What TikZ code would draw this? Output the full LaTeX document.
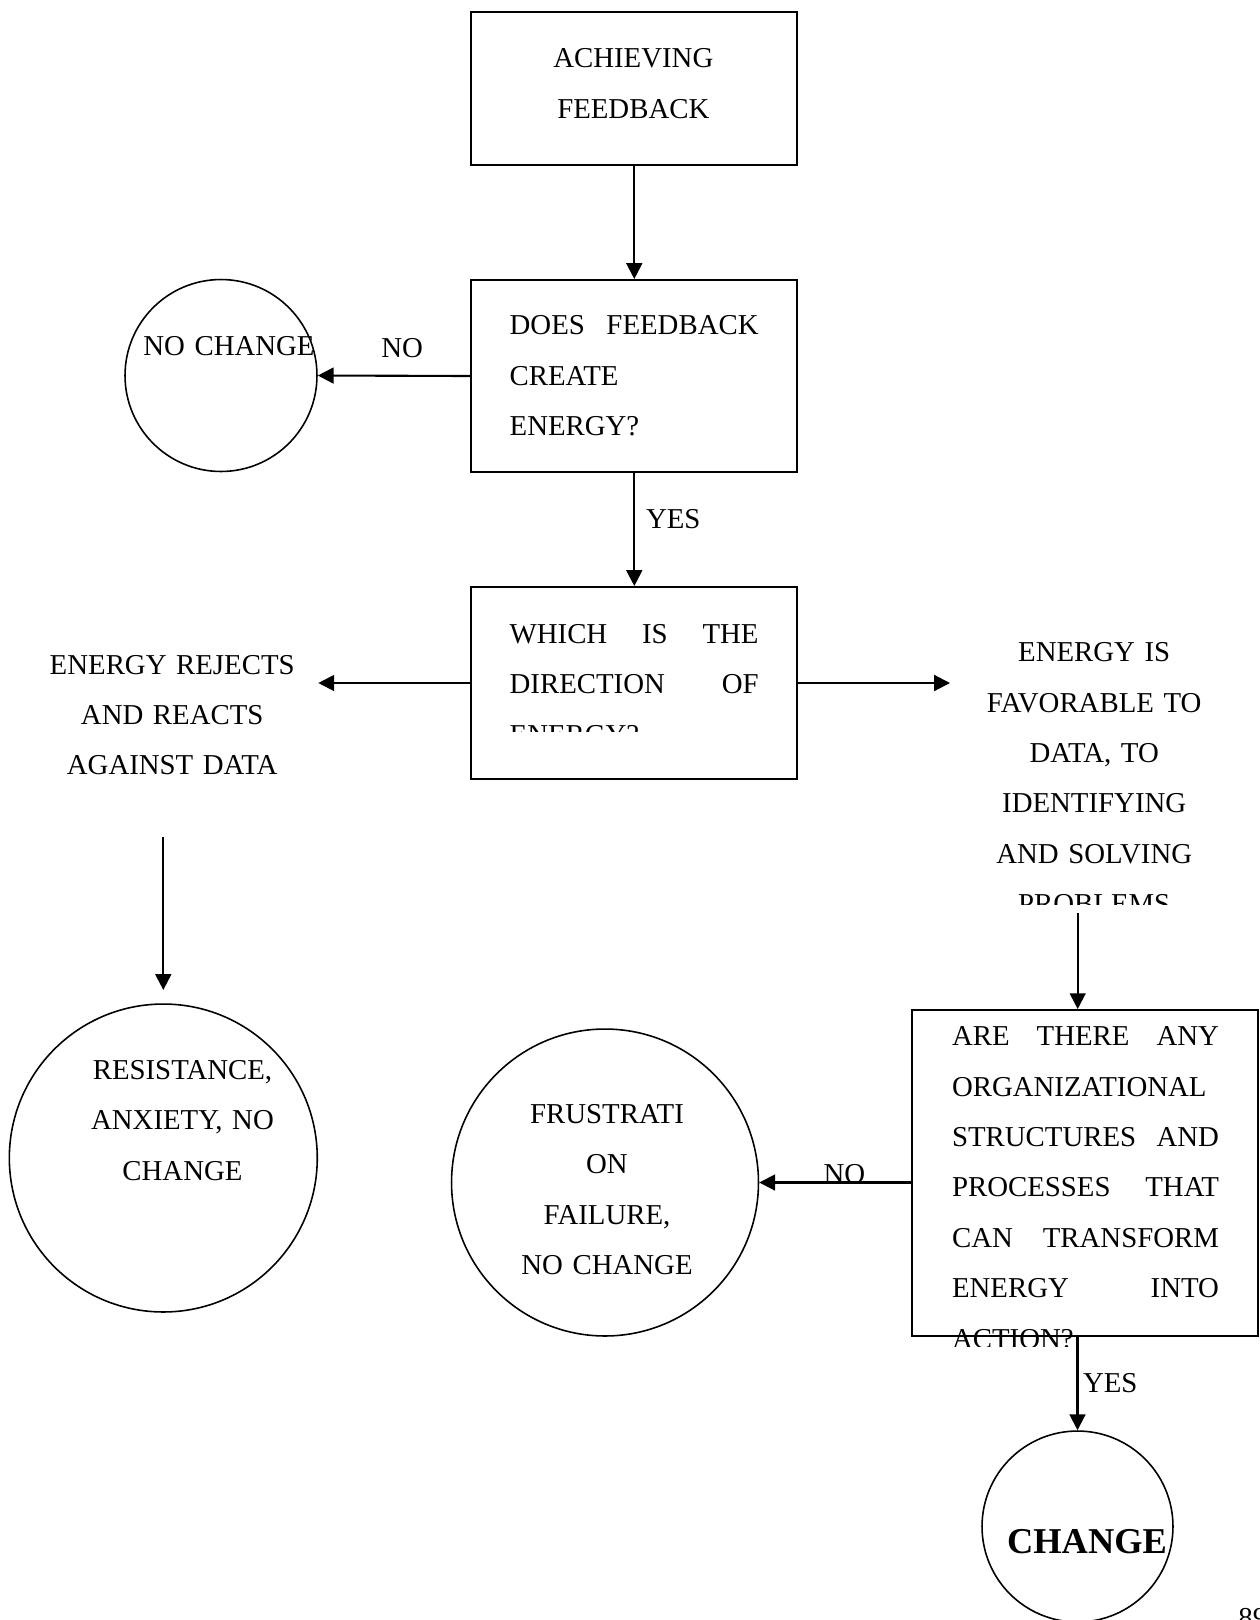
\documentclass[tikz,border=0pt]{standalone}
\usepackage{fontspec}
\setmainfont{Liberation Serif}
\usetikzlibrary{arrows.meta}

\newcommand{\bodysize}{\fontsize{16.4pt}{28.7pt}\selectfont}
\newcommand{\fullline}[2]{\makebox[#1][s]{\spaceskip=.25em plus 1fil\relax #2}}

\tikzset{
  flowbox/.style={rectangle, draw, line width=1.1pt, inner sep=0pt},
  endcircle/.style={circle, draw, line width=0.9pt, inner sep=0pt},
  flowtext/.style={inner sep=0pt, font=\bodysize, align=center, text width=7cm, anchor=base},
  boxtext/.style={inner sep=0pt, font=\bodysize, align=left, anchor=base west},
  flowarrow/.style={-{Triangle[length=9pt, width=9pt]}, line width=1.2pt},
}

\begin{document}
\begin{tikzpicture}[x=0.02cm, y=-0.02cm]
  \clip (0,0) rectangle (1259,1620);

  % boxes
  \node[flowbox, minimum width=6.52cm, minimum height=3.06cm] (achieve) at (634.3,88.3) {};
  \node[flowbox, minimum width=6.52cm, minimum height=3.84cm] (energyq) at (634.3,376) {};
  \node[flowbox, minimum width=6.52cm, minimum height=3.84cm] (direction) at (634.3,683) {};
  \node[flowbox, minimum width=6.92cm, minimum height=6.52cm] (structq) at (1085,1173) {};

  % circles
  \node[endcircle, minimum size=3.84cm] (nochange) at (221,375.5) {};
  \node[endcircle, minimum size=6.16cm] (resist) at (163.3,1158) {};
  \node[endcircle, minimum size=6.14cm] (frustr) at (605,1182.5) {};
  \node[endcircle, minimum size=3.82cm] (change) at (1077.5,1526.5) {};

  % texts
  \node[flowtext] (achievetext) at (633.3,67.7) {ACHIEVING\\FEEDBACK};
  \node[boxtext, text width=4.98cm] (energyqtext) at (509.3,334.8)
    {\fullline{4.98cm}{DOES FEEDBACK}\\CREATE\\ENERGY?};
  \begin{scope}
    \clip (471,587) rectangle (797,731.7);
    \node[boxtext, text width=4.98cm] (directiontext) at (509.3,643.3)
      {\fullline{4.98cm}{WHICH IS THE}\\\fullline{4.98cm}{DIRECTION OF}\\ENERGY?};
  \end{scope}
  \node[flowtext] (rejecttext) at (172.2,674) {ENERGY REJECTS\\AND REACTS\\AGAINST DATA};
  \begin{scope}
    \clip (940,620) rectangle (1259,904);
    \node[flowtext] (favourtext) at (1094.2,661.7)
      {ENERGY IS\\FAVORABLE TO\\DATA, TO\\IDENTIFYING\\AND SOLVING\\PROBLEMS};
  \end{scope}
  \begin{scope}
    \clip (912,1010) rectangle (1259,1346.7);
    \node[boxtext, text width=5.34cm] (structqtext) at (951.7,1045.7)
      {\fullline{5.34cm}{ARE THERE ANY}\\ORGANIZATIONAL\\\fullline{5.34cm}{STRUCTURES AND}\\
       \fullline{5.34cm}{PROCESSES THAT}\\\fullline{5.34cm}{CAN TRANSFORM}\\
       \fullline{5.34cm}{ENERGY INTO}\\ACTION?};
  \end{scope}
  \node[flowtext] (nochangetext) at (229,355) {NO CHANGE};
  \node[flowtext] (resisttext) at (182.5,1079.3) {RESISTANCE,\\ANXIETY, NO\\CHANGE};
  \node[flowtext] (frustrtext) at (607,1123.3) {FRUSTRATI\\ON\\FAILURE,\\NO CHANGE};
  \node[flowtext, font=\fontsize{20.7pt}{24pt}\selectfont\bfseries] (changetext) at (1087,1553) {CHANGE};

  % labels
  \node[boxtext] (nolabela) at (381,357.3) {NO};
  \node[boxtext] (yeslabela) at (645.7,528.3) {YES};
  \node[boxtext] (nolabelb) at (823.3,1183) {NO};
  \node[boxtext] (yeslabelb) at (1082.7,1392.7) {YES};
  \node[boxtext] (pagenum) at (1238,1627) {89};

  % loose ends
  \coordinate (rejectin) at (318.3,683);
  \coordinate (favourin) at (950,683);
  \coordinate (rejectout) at (163.3,836.7);
  \coordinate (resistin) at (163.3,990);
  \coordinate (favourout) at (1077.7,913);

  % arrows
  \draw[flowarrow] (achieve) -- (energyq);
  \draw[flowarrow] (energyq.west) -- (nochange.east);
  \draw[flowarrow] (energyq) -- (direction);
  \draw[flowarrow] (direction.west) -- (rejectin);
  \draw[flowarrow] (direction.east) -- (favourin);
  \draw[flowarrow] (rejectout) -- (resistin);
  \draw[flowarrow] (favourout) -- (favourout |- structq.north);
  \draw[flowarrow] (frustr.east -| structq.west) -- (frustr.east);
  \draw[flowarrow] (change.north |- structq.south) -- (change.north);
\end{tikzpicture}
\end{document}
